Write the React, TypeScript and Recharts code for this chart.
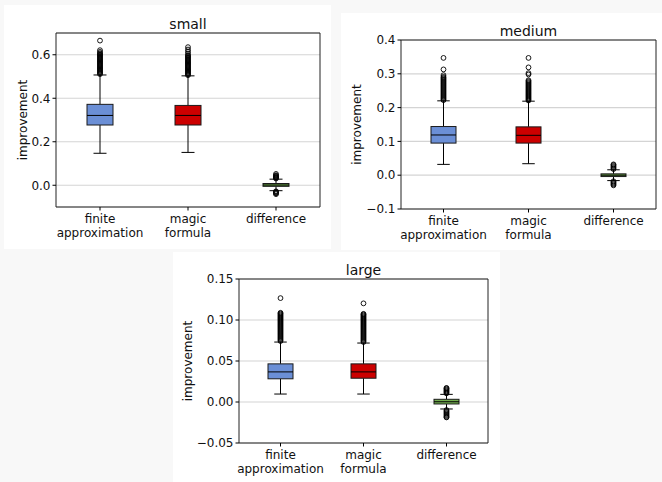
import { ComposedChart, Bar, Scatter, XAxis, YAxis, CartesianGrid, ReferenceArea } from 'recharts'

const categories = ['finite\napproximation', 'magic\nformula', 'difference']
const boxColors = ['#6b8fd6', '#cc0000', '#72ad4f']

// small
const smallTicks = [0, 0.2, 0.4, 0.6]
const smallLow = [0.147, 0.151, -0.025]
const smallQ1 = [0.277, 0.277, -0.005]
const smallMed = [0.321, 0.321, 0.001]
const smallQ3 = [0.372, 0.367, 0.008]
const smallHigh = [0.507, 0.503, 0.028]
const smallFiniteOut = [0.511, 0.515, 0.519, 0.523, 0.527, 0.531, 0.535, 0.539, 0.543, 0.547, 0.551, 0.555, 0.559, 0.563, 0.567, 0.571, 0.575, 0.579, 0.583, 0.587, 0.591, 0.595, 0.599, 0.603, 0.607, 0.613, 0.621, 0.665]
const smallMagicOut = [0.506, 0.51, 0.514, 0.518, 0.522, 0.526, 0.53, 0.534, 0.538, 0.542, 0.546, 0.55, 0.554, 0.558, 0.562, 0.566, 0.57, 0.574, 0.578, 0.582, 0.586, 0.59, 0.594, 0.598, 0.606, 0.615, 0.624, 0.635]
const smallDiffOut = [0.031, 0.034, 0.037, 0.04, 0.043, 0.046, 0.052, -0.028, -0.031, -0.034, -0.037, -0.041]

// medium
const mediumTicks = [-0.1, 0, 0.1, 0.2, 0.3, 0.4]
const mediumLow = [0.032, 0.034, -0.016]
const mediumQ1 = [0.095, 0.095, -0.004]
const mediumMed = [0.119, 0.118, 0.0]
const mediumQ3 = [0.144, 0.143, 0.004]
const mediumHigh = [0.22, 0.219, 0.016]
const mediumFiniteOut = [0.222, 0.225, 0.228, 0.231, 0.234, 0.237, 0.24, 0.243, 0.246, 0.249, 0.252, 0.255, 0.258, 0.261, 0.264, 0.267, 0.27, 0.273, 0.276, 0.279, 0.282, 0.285, 0.288, 0.291, 0.296, 0.313, 0.347]
const mediumMagicOut = [0.221, 0.224, 0.227, 0.23, 0.233, 0.236, 0.239, 0.242, 0.245, 0.248, 0.251, 0.254, 0.257, 0.26, 0.263, 0.266, 0.269, 0.272, 0.275, 0.278, 0.281, 0.298, 0.302, 0.319, 0.347]
const mediumDiffOut = [0.018, 0.021, 0.024, 0.027, 0.03, 0.032, -0.018, -0.021, -0.024, -0.027, -0.03]

// large
const largeTicks = [-0.05, 0, 0.05, 0.1, 0.15]
const largeLow = [0.0097, 0.0097, -0.0085]
const largeQ1 = [0.0283, 0.029, -0.0024]
const largeMed = [0.0367, 0.0367, 0.0003]
const largeQ3 = [0.0465, 0.0465, 0.0033]
const largeHigh = [0.0731, 0.0719, 0.0093]
const largeFiniteOut = [0.0743, 0.0755, 0.0767, 0.0779, 0.0791, 0.0803, 0.0815, 0.0827, 0.0839, 0.0851, 0.0863, 0.0875, 0.0887, 0.0899, 0.0911, 0.0923, 0.0935, 0.0947, 0.0959, 0.0971, 0.0983, 0.0995, 0.1007, 0.1019, 0.1031, 0.1043, 0.1055, 0.1067, 0.1079, 0.1088, 0.1267]
const largeMagicOut = [0.0731, 0.0743, 0.0755, 0.0767, 0.0779, 0.0791, 0.0803, 0.0815, 0.0827, 0.0839, 0.0851, 0.0863, 0.0875, 0.0887, 0.0899, 0.0911, 0.0923, 0.0935, 0.0947, 0.0959, 0.0971, 0.0983, 0.0995, 0.1007, 0.1019, 0.1031, 0.1043, 0.1055, 0.1067, 0.1075, 0.1203]
const largeDiffOut = [0.0105, 0.0117, 0.0129, 0.0141, 0.0153, 0.0165, 0.0172, -0.0098, -0.011, -0.0122, -0.0134, -0.0146, -0.0158, -0.017, -0.0182, -0.0188]

const fmt = (d: number) => (v: number) => (v < 0 ? '\u2212' : '') + Math.abs(v).toFixed(d)

const BoxShape = (props: any) => {
    const { x, y, width, height, payload } = props
    const [lo, hi] = payload.range
    const top = Math.min(y, y + height)
    const bot = Math.max(y, y + height)
    const px = (v: number) => bot - ((v - lo) / (hi - lo)) * (bot - top)
    const cx = x + width / 2
    const cap = width / 4
    return (
        <g>
            <line x1={cx} x2={cx} y1={px(hi)} y2={px(payload.q3)} stroke="#000" />
            <line x1={cx} x2={cx} y1={px(lo)} y2={px(payload.q1)} stroke="#000" />
            <line x1={cx - cap} x2={cx + cap} y1={px(hi)} y2={px(hi)} stroke="#000" />
            <line x1={cx - cap} x2={cx + cap} y1={px(lo)} y2={px(lo)} stroke="#000" />
            <rect x={x} y={px(payload.q3)} width={width} height={Math.max(px(payload.q1) - px(payload.q3), 1)} fill={payload.color} stroke="#1a1a1a" strokeWidth={1} />
            <line x1={x} x2={x + width} y1={px(payload.med)} y2={px(payload.med)} stroke="#000" />
        </g>
    )
}

const CatTick = (props: any) => {
    const { x, y, payload } = props
    const lines = String(payload.value).split('\n')
    return (
        <text x={x} y={y} textAnchor="middle" fontSize={12} fill="#111">
            {lines.map((l, i) => (
                <tspan key={i} x={x} dy={i === 0 ? '0.71em' : '1.17em'}>{l}</tspan>
            ))}
        </text>
    )
}

type PanelProps = {
    title: string
    left: number
    top: number
    width: number
    height: number
    plot: { l: number; t: number; r: number; b: number }
    domain: [number, number]
    ticks: number[]
    decimals: number
    low: number[]
    q1: number[]
    med: number[]
    q3: number[]
    high: number[]
    outliers: number[][]
    boxWidth: number
    labelX: number
    titleY: number
}

function Panel(p: PanelProps) {
    const rows = categories.map((name, i) => ({
        name,
        range: [p.low[i], p.high[i]],
        q1: p.q1[i],
        med: p.med[i],
        q3: p.q3[i],
        color: boxColors[i],
    }))
    const points = categories.flatMap((name, i) => p.outliers[i].map((v) => ({ name, v })))
    return (
        <div style={{ position: 'absolute', left: p.left, top: p.top, width: p.width, height: p.height, background: '#fff' }}>
            <div style={{ position: 'absolute', left: p.plot.l, width: p.width - p.plot.l - p.plot.r, top: p.titleY - 9, height: 18, lineHeight: '18px', textAlign: 'center', fontSize: 14, color: '#111' }}>
                {p.title}
            </div>
            <ComposedChart
                width={p.width}
                height={p.height}
                data={rows}
                margin={{ top: p.plot.t, right: p.plot.r, bottom: 0, left: 0 }}
            >
                <CartesianGrid vertical={false} stroke="#d4d4d4" strokeWidth={1.2} />
                <XAxis
                    dataKey="name"
                    type="category"
                    allowDuplicatedCategory={false}
                    height={p.plot.b}
                    interval={0}
                    axisLine={false}
                    tickSize={3.5}
                    tickMargin={3.5}
                    tickLine={{ stroke: '#000' }}
                    tick={<CatTick />}
                />
                <YAxis
                    type="number"
                    domain={p.domain}
                    ticks={p.ticks}
                    allowDataOverflow
                    width={p.plot.l}
                    interval={0}
                    axisLine={false}
                    tickSize={3.5}
                    tickMargin={2}
                    tickLine={{ stroke: '#000' }}
                    tick={{ fontSize: 12, fill: '#111' }}
                    tickFormatter={fmt(p.decimals)}
                    label={(lp: any) => {
                        const vb = lp.viewBox || {}
                        const cy = (vb.y ?? p.plot.t) + (vb.height ?? 0) / 2
                        return (
                            <text x={p.labelX} y={cy} transform={`rotate(-90 ${p.labelX} ${cy})`} textAnchor="middle" dominantBaseline="central" fontSize={12} fill="#111">
                                improvement
                            </text>
                        )
                    }}
                />
                <Bar dataKey="range" barSize={p.boxWidth} shape={<BoxShape />} isAnimationActive={false} />
                <Scatter
                    data={points}
                    dataKey="v"
                    isAnimationActive={false}
                    shape={(s: any) => <circle cx={s.cx} cy={s.cy} r={2.4} fill="none" stroke="#000" strokeWidth={0.9} />}
                />
                <ReferenceArea y1={p.domain[0]} y2={p.domain[1]} fill="none" stroke="#222" strokeWidth={1} ifOverflow="visible" />
            </ComposedChart>
        </div>
    )
}

export default function App() {
    return (
        <div style={{ position: 'absolute', left: 0, top: 0, width: 662, height: 482, background: '#f8f8f8', fontFamily: '"DejaVu Sans", sans-serif', overflow: 'hidden' }}>
            <Panel
                title="small"
                left={4} top={5} width={327} height={244}
                plot={{ l: 52, t: 28, r: 11, b: 42 }}
                domain={[-0.1, 0.7]}
                ticks={smallTicks}
                decimals={1}
                low={smallLow} q1={smallQ1} med={smallMed} q3={smallQ3} high={smallHigh}
                outliers={[smallFiniteOut, smallMagicOut, smallDiffOut]}
                boxWidth={26}
                labelX={19}
                titleY={19}
            />
            <Panel
                title="medium"
                left={341} top={13} width={321} height={237}
                plot={{ l: 60, t: 27, r: 6, b: 41 }}
                domain={[-0.1, 0.4]}
                ticks={mediumTicks}
                decimals={1}
                low={mediumLow} q1={mediumQ1} med={mediumMed} q3={mediumQ3} high={mediumHigh}
                outliers={[mediumFiniteOut, mediumMagicOut, mediumDiffOut]}
                boxWidth={25}
                labelX={16}
                titleY={18}
            />
            <Panel
                title="large"
                left={173} top={252} width={327} height={230}
                plot={{ l: 66, t: 27, r: 12, b: 39 }}
                domain={[-0.05, 0.15]}
                ticks={largeTicks}
                decimals={2}
                low={largeLow} q1={largeQ1} med={largeMed} q3={largeQ3} high={largeHigh}
                outliers={[largeFiniteOut, largeMagicOut, largeDiffOut]}
                boxWidth={25}
                labelX={15}
                titleY={18}
            />
        </div>
    )
}
